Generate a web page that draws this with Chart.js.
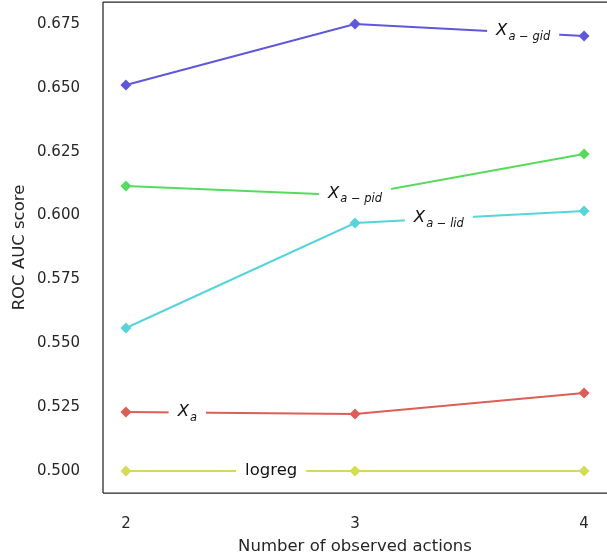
<!DOCTYPE html>
<html><head><meta charset="utf-8">
<script src="https://cdn.jsdelivr.net/npm/chart.js@4"></script>
<style>html,body{margin:0;padding:0;background:#fff}#wrap{width:607px;height:558px}</style>
</head><body><div id="wrap"><canvas id="c"></canvas></div>
<script>
// ---- data ----
const xValues = [2, 3, 4];
const seriesNames = ['X_a', 'logreg', 'X_a-pid', 'X_a-lid', 'X_a-gid'];
const xa     = [0.5231, 0.5223, 0.5305];
const logreg = [0.5000, 0.5000, 0.5000];
const xaPid  = [0.6116, 0.6079, 0.6241];
const xaLid  = [0.5560, 0.5971, 0.6018];
const xaGid  = [0.6511, 0.6750, 0.6703];
const yTicks = [0.500, 0.525, 0.550, 0.575, 0.600, 0.625, 0.650, 0.675];
const labelMain = ['X', 'logreg', 'X', 'X', 'X'];
const labelSub  = ['a', '', 'a \u2212 pid', 'a \u2212 lid', 'a \u2212 gid'];
const labelAt   = [2.268, 2.634, 3.0, 3.366, 3.734];

const colors = ['#db5f57', '#d3db57', '#57db5f', '#57d3db', '#5f57db'];
const seriesValues = [xa, logreg, xaPid, xaLid, xaGid];

const datasets = seriesValues.map((vals, i) => ({
  label: seriesNames[i],
  data: vals.map((v, j) => ({x: xValues[j], y: v})),
  borderColor: colors[i],
  backgroundColor: colors[i],
  borderWidth: 2,
  pointStyle: 'rectRot',
  pointRadius: 5.5,
  pointHoverRadius: 5.5,
  pointBorderWidth: 0,
  tension: 0
}));

function interp(vals, x) {
  for (let j = 0; j < xValues.length - 1; j++) {
    if (x >= xValues[j] && x <= xValues[j + 1]) {
      const t = (x - xValues[j]) / (xValues[j + 1] - xValues[j]);
      return vals[j] + t * (vals[j + 1] - vals[j]);
    }
  }
  return vals[vals.length - 1];
}

const FONT = '"DejaVu Sans", sans-serif';

const framePlugin = {
  id: 'frame',
  beforeDatasetsDraw(chart) {
    const {ctx, chartArea: a} = chart;
    ctx.save();
    ctx.strokeStyle = '#262626';
    ctx.lineWidth = 1.25;
    ctx.beginPath();
    ctx.moveTo(a.left, a.top); ctx.lineTo(a.right + 2, a.top);
    ctx.moveTo(a.left, a.top); ctx.lineTo(a.left, a.bottom);
    ctx.moveTo(a.left, a.bottom); ctx.lineTo(a.right + 2, a.bottom);
    ctx.stroke();
    ctx.restore();
  }
};

const inlineLabels = {
  id: 'inlineLabels',
  afterDatasetsDraw(chart) {
    const {ctx} = chart;
    const xs = chart.scales.x, ys = chart.scales.y;
    ctx.save();
    seriesValues.forEach((vals, i) => {
      const xv = labelAt[i];
      const px = xs.getPixelForValue(xv);
      const py = ys.getPixelForValue(interp(vals, xv));
      ctx.textBaseline = 'alphabetic';
      ctx.textAlign = 'left';
      if (labelSub[i] === '') {
        ctx.font = '16.5px ' + FONT;
        const w = ctx.measureText(labelMain[i]).width;
        const base = py + 4.3;
        ctx.fillStyle = '#ffffff';
        ctx.fillRect(px - w / 2 - 9, py - 12, w + 18, 24);
        ctx.fillStyle = '#111111';
        ctx.fillText(labelMain[i], px - w / 2, base);
      } else {
        ctx.font = 'italic 16.5px ' + FONT;
        const wM = ctx.measureText(labelMain[i]).width;
        ctx.font = 'italic 11.5px ' + FONT;
        const wS = ctx.measureText(labelSub[i]).width;
        const w = wM + 1 + wS;
        const hasDesc = /[gpq]/.test(labelSub[i]);
        const base = py + (hasDesc ? 2.3 : 3.7);
        ctx.fillStyle = '#ffffff';
        ctx.fillRect(px - w / 2 - 9, py - 13, w + 18, 26);
        ctx.fillStyle = '#111111';
        ctx.font = 'italic 16.5px ' + FONT;
        ctx.fillText(labelMain[i], px - w / 2, base);
        ctx.font = 'italic 11.5px ' + FONT;
        ctx.fillText(labelSub[i], px - w / 2 + wM + 1, base + 4.5);
      }
    });
    ctx.restore();
  }
};

new Chart(document.getElementById('c'), {
  type: 'line',
  data: {datasets},
  plugins: [framePlugin, inlineLabels],
  options: {
    responsive: true,
    maintainAspectRatio: false,
    animation: false,
    events: [],
    layout: {autoPadding: false, padding: {top: 2, right: -2, left: 0, bottom: 0}},
    plugins: {legend: {display: false}, tooltip: {enabled: false}},
    scales: {
      x: {
        type: 'linear',
        min: 1.9, max: 4.1,
        afterBuildTicks: s => { s.ticks = xValues.map(v => ({value: v})); },
        afterFit: s => { s.height = 65; s.paddingLeft = 0; s.paddingRight = 0; s.paddingTop = 0; s.paddingBottom = 0; },
        grid: {display: false, drawTicks: false},
        border: {display: false},
        ticks: {padding: 22, color: '#262626', font: {family: FONT, size: 15},
                callback: v => String(v), maxRotation: 0, autoSkip: false},
        title: {display: true, text: 'Number of observed actions', color: '#262626',
                font: {family: FONT, size: 16.5}, padding: {top: 0, bottom: 1}}
      },
      y: {
        type: 'linear',
        min: 0.4914, max: 0.6836,
        afterBuildTicks: s => { s.ticks = yTicks.map(v => ({value: v})); },
        afterFit: s => { s.width = 103; s.paddingTop = 0; s.paddingBottom = 0; s.paddingLeft = 0; s.paddingRight = 0; },
        grid: {display: false, drawTicks: false},
        border: {display: false},
        ticks: {padding: 23, color: '#262626', font: {family: FONT, size: 15},
                callback: v => Number(v).toFixed(3), autoSkip: false},
        title: {display: true, text: 'ROC AUC score', color: '#262626',
                font: {family: FONT, size: 16.5}, padding: {top: 10, bottom: 0}}
      }
    }
  }
});
</script>
</body></html>
